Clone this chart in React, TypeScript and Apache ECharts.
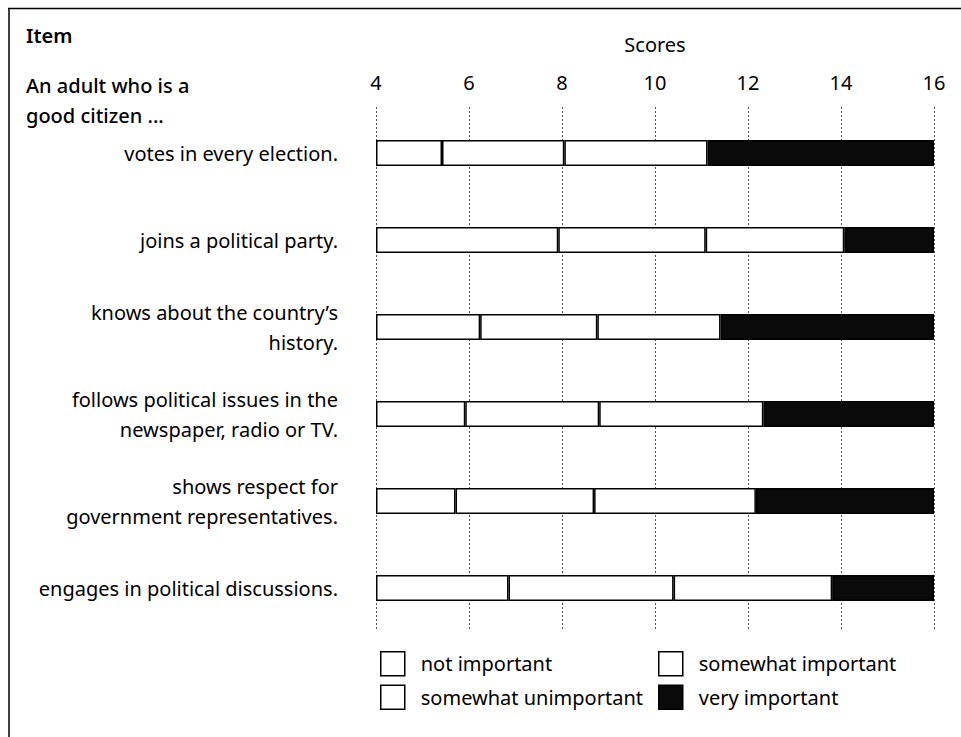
import React, { useEffect, useRef } from "react";
import * as echarts from "echarts";

const categories = [
  "votes in every election.",
  "joins a political party.",
  "knows about the country’s\nhistory.",
  "follows political issues in the\nnewspaper, radio or TV.",
  "shows respect for\ngovernment representatives.",
  "engages in political discussions.",
];
// upper boundary (score) of each importance band, per item
const notImportantTo = [5.42, 7.92, 6.24, 5.92, 5.71, 6.85];
const somewhatUnimportantTo = [8.05, 11.09, 8.76, 8.8, 8.69, 10.4];
const somewhatImportantTo = [11.13, 14.07, 11.41, 12.33, 12.17, 13.81];
const veryImportantTo = [16, 16, 16, 16, 16, 16];
const scoreMin = 4;
const scoreMax = 16;
const scoreStep = 2;
const bandNames = ["not important", "somewhat unimportant", "somewhat important", "very important"];

const FONT = "Noto Sans";
const FS = 20;

export default function App() {
  const ref = useRef<HTMLDivElement>(null);
  useEffect(() => {
    if (!ref.current) return;
    const chart = echarts.init(ref.current, null, { renderer: "svg" });
    const base = categories.map(() => scoreMin);
    const seg1 = notImportantTo.map((v) => +(v - scoreMin).toFixed(3));
    const seg2 = somewhatUnimportantTo.map((v, i) => +(v - notImportantTo[i]).toFixed(3));
    const seg3 = somewhatImportantTo.map((v, i) => +(v - somewhatUnimportantTo[i]).toFixed(3));
    const seg4 = veryImportantTo.map((v, i) => +(v - somewhatImportantTo[i]).toFixed(3));
    const fills = ["#ffffff", "#ffffff", "#ffffff", "#0a0a0a"];
    const segs = [seg1, seg2, seg3, seg4];
    const barStyle = (c: string) => ({ color: c, borderColor: "#000", borderWidth: 1.5 });
    const legendText = { fontSize: FS, fontFamily: FONT, color: "#000", padding: [0, 0, 0, 11] };

    chart.setOption({
      animation: false,
      textStyle: { fontFamily: FONT, color: "#000" },
      grid: [
        { left: 376, right: 27, top: 109.5, height: 522 },
        { left: 376, right: 27, top: 107, height: 524 },
      ],
      xAxis: [
        {
          type: "value",
          gridIndex: 0,
          position: "top",
          min: scoreMin,
          max: scoreMax,
          interval: scoreStep,
          name: "Scores",
          nameLocation: "middle",
          nameGap: 55,
          nameTextStyle: { fontSize: FS, fontFamily: FONT, color: "#000" },
          axisLine: { show: false },
          axisTick: { show: false },
          splitLine: { show: false },
          axisLabel: { fontSize: FS, fontFamily: FONT, color: "#000", margin: 17 },
        },
        {
          type: "value",
          gridIndex: 1,
          min: scoreMin,
          max: scoreMax,
          interval: scoreStep,
          axisLine: { show: false },
          axisTick: { show: false },
          axisLabel: { show: false },
          splitLine: { show: true, lineStyle: { color: "#555", width: 1, type: [2, 2] } },
        },
      ],
      yAxis: [
        {
          type: "category",
          gridIndex: 0,
          data: categories,
          inverse: true,
          axisLine: { show: false },
          axisTick: { show: false },
          axisLabel: {
            fontSize: FS,
            fontFamily: FONT,
            color: "#000",
            margin: 38,
            lineHeight: 30,
            align: "right",
          },
        },
        {
          type: "value",
          gridIndex: 1,
          min: 0,
          max: 1,
          show: false,
          splitLine: { show: false },
        },
      ],
      legend: [
        {
          data: [
            { name: bandNames[0], itemStyle: barStyle(fills[0]) },
            { name: bandNames[1], itemStyle: barStyle(fills[1]) },
          ],
          orient: "vertical",
          left: 380,
          top: 651,
          padding: 0,
          icon: "rect",
          itemWidth: 24,
          itemHeight: 24,
          itemGap: 8,
          selectedMode: false,
          textStyle: legendText,
        },
        {
          data: [
            { name: bandNames[2], itemStyle: barStyle(fills[2]) },
            { name: bandNames[3], itemStyle: barStyle(fills[3]) },
          ],
          orient: "vertical",
          left: 658,
          top: 651,
          padding: 0,
          icon: "rect",
          itemWidth: 24,
          itemHeight: 24,
          itemGap: 8,
          selectedMode: false,
          textStyle: legendText,
        },
      ],
      series: [
        {
          name: "base",
          type: "bar",
          stack: "s",
          xAxisIndex: 0,
          yAxisIndex: 0,
          data: base,
          barWidth: 26,
          itemStyle: { color: "rgba(0,0,0,0)", borderWidth: 0 },
          silent: true,
        },
        ...segs.map((d, i) => ({
          name: bandNames[i],
          type: "bar",
          stack: "s",
          xAxisIndex: 0,
          yAxisIndex: 0,
          data: d,
          barWidth: 26,
          itemStyle: barStyle(fills[i]),
        })),
      ],
      graphic: [
        { type: "line", shape: { x1: 8, y1: 8.5, x2: 961, y2: 8.5 }, style: { stroke: "#000", lineWidth: 1.5 } },
        { type: "line", shape: { x1: 9, y1: 8, x2: 9, y2: 737 }, style: { stroke: "#000", lineWidth: 1.5 } },
        {
          type: "text",
          left: 26,
          top: 25,
          style: { text: "Item", fontSize: FS, fontFamily: FONT, fontWeight: 600, fill: "#000" },
        },
        {
          type: "text",
          left: 26,
          top: 70,
          style: {
            text: "An adult who is a\ngood citizen ...",
            fontSize: FS,
            fontFamily: FONT,
            fontWeight: 500,
            lineHeight: 30,
            fill: "#000",
          },
        },
      ],
    });
    return () => chart.dispose();
  }, []);
  return (
    <div
      ref={ref}
      style={{ position: "absolute", left: 0, top: 0, width: 961, height: 737, background: "#fff" }}
    />
  );
}
